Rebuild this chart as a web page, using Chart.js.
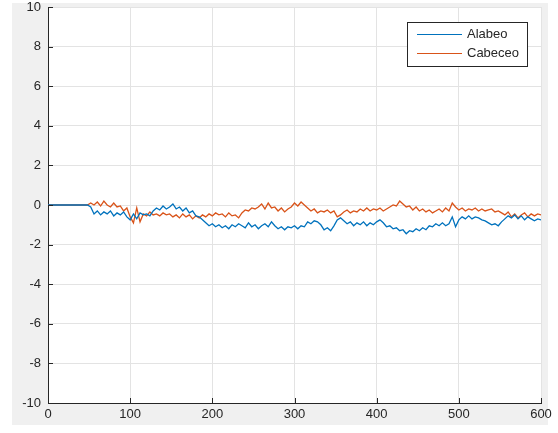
<!DOCTYPE html>
<html>
<head>
<meta charset="utf-8">
<script src="https://cdn.jsdelivr.net/npm/chart.js@4"></script>
<style>
  html, body { margin: 0; padding: 0; background: #ffffff; }
  #wrap { position: relative; width: 558px; height: 433px; }
</style>
</head>
<body>
<div id="wrap"><canvas id="chart" width="558" height="433"></canvas></div>
<script>
// 采样点 (0..600, 每4个单位一个)
const muestras = [
  0, 4, 8, 12, 16, 20, 24, 28, 32, 36,
  40, 44, 48, 52, 56, 60, 64, 68, 72, 76,
  80, 84, 88, 92, 96, 100, 104, 108, 112, 116,
  120, 124, 128, 132, 136, 140, 144, 148, 152, 156,
  160, 164, 168, 172, 176, 180, 184, 188, 192, 196,
  200, 204, 208, 212, 216, 220, 224, 228, 232, 236,
  240, 244, 248, 252, 256, 260, 264, 268, 272, 276,
  280, 284, 288, 292, 296, 300, 304, 308, 312, 316,
  320, 324, 328, 332, 336, 340, 344, 348, 352, 356,
  360, 364, 368, 372, 376, 380, 384, 388, 392, 396,
  400, 404, 408, 412, 416, 420, 424, 428, 432, 436,
  440, 444, 448, 452, 456, 460, 464, 468, 472, 476,
  480, 484, 488, 492, 496, 500, 504, 508, 512, 516,
  520, 524, 528, 532, 536, 540, 544, 548, 552, 556,
  560, 564, 568, 572, 576, 580, 584, 588, 592, 596,
  600
];

const alabeo = [
  0, 0, 0, 0, 0, 0, 0, 0, 0, 0,
  0, 0, 0, -0.1, -0.45, -0.3, -0.5, -0.35, -0.45, -0.3,
  -0.55, -0.4, -0.5, -0.35, -0.6, -0.75, -0.45, -0.7, -0.4, -0.5,
  -0.45, -0.55, -0.3, -0.15, -0.25, -0.05, -0.2, -0.1, 0.05, -0.2,
  -0.1, -0.3, -0.15, -0.4, -0.3, -0.55, -0.6, -0.75, -0.9, -1.05,
  -0.95, -1.1, -1.0, -1.15, -1.05, -1.2, -1.0, -1.1, -0.95, -1.05,
  -1.15, -0.9, -1.1, -1.0, -1.2, -1.05, -0.95, -1.1, -0.85, -1.05,
  -1.2, -1.1, -1.25, -1.1, -1.15, -1.05, -1.2, -1.05, -1.1, -0.85,
  -0.95, -0.8, -0.85, -1.0, -1.25, -1.15, -1.3, -1.05, -0.75, -0.65,
  -0.8, -0.95, -0.85, -1.05, -0.9, -1.0, -0.85, -1.05, -0.9, -1.0,
  -0.85, -0.75, -0.9, -1.1, -1.05, -1.2, -1.15, -1.3, -1.25, -1.45,
  -1.3, -1.35, -1.2, -1.3, -1.15, -1.25, -1.05, -1.1, -0.95, -1.05,
  -0.9, -1.05, -0.95, -0.6, -1.1, -0.75, -0.6, -0.7, -0.55, -0.7,
  -0.6, -0.65, -0.75, -0.8, -0.9, -1.0, -0.95, -1.05, -0.85, -0.7,
  -0.55, -0.65, -0.5, -0.7, -0.55, -0.75, -0.6, -0.7, -0.8, -0.7,
  -0.75
];

const cabeceo = [
  0, 0, 0, 0, 0, 0, 0, 0, 0, 0,
  0, 0, 0, 0.1, 0.0, 0.15, -0.05, 0.2, 0.0, -0.1,
  0.1, -0.1, -0.05, -0.3, -0.15, -0.6, -0.9, -0.15, -0.85, -0.45,
  -0.55, -0.35, -0.5, -0.45, -0.55, -0.4, -0.5, -0.45, -0.6, -0.5,
  -0.65, -0.45, -0.6, -0.5, -0.7, -0.55, -0.65, -0.5, -0.6, -0.45,
  -0.55, -0.4, -0.5, -0.45, -0.6, -0.4, -0.55, -0.5, -0.65, -0.4,
  -0.25, -0.3, -0.15, -0.2, -0.1, 0.05, -0.2, 0.1, -0.15, -0.1,
  -0.3, -0.15, -0.35, -0.2, -0.1, 0.1, -0.05, 0.15, 0.0, -0.15,
  -0.3, -0.2, -0.4, -0.3, -0.35, -0.25, -0.4, -0.3, -0.6, -0.5,
  -0.35, -0.25, -0.4, -0.3, -0.35, -0.2, -0.3, -0.15, -0.3, -0.2,
  -0.25, -0.15, -0.3, -0.2, -0.1, 0.0, -0.05, 0.2, 0.05, -0.1,
  -0.05, -0.25, -0.1, -0.3, -0.2, -0.35, -0.25, -0.4, -0.3, -0.2,
  -0.35, -0.15, -0.3, 0.1, -0.1, -0.25, -0.15, -0.3, -0.2, -0.25,
  -0.15, -0.3, -0.2, -0.3, -0.25, -0.2, -0.35, -0.3, -0.4, -0.5,
  -0.35, -0.6, -0.45, -0.65, -0.5, -0.4, -0.6, -0.45, -0.55, -0.45,
  -0.5
];

const ticksX = [0, 100, 200, 300, 400, 500, 600];
const ticksY = [-10, -8, -6, -4, -2, 0, 2, 4, 6, 8, 10];

const TEXT = '#262626';
const FONT = { family: '"Liberation Sans", Arial, sans-serif', size: 13 };

// 背景: 灰色图窗 + 白色坐标区
const fondoPlugin = {
  id: 'fondo',
  beforeDraw(chart) {
    const { ctx, chartArea: a } = chart;
    ctx.save();
    ctx.fillStyle = '#f0f0f0';
    ctx.fillRect(12, 3, 536, 422);
    ctx.fillStyle = '#ffffff';
    ctx.fillRect(a.left, a.top, a.right - a.left, a.bottom - a.top);
    ctx.restore();
  }
};

// 朝内的刻度线 + 图例
const extrasPlugin = {
  id: 'extras',
  afterDraw(chart) {
    const { ctx, chartArea: a, scales } = chart;
    ctx.save();
    ctx.strokeStyle = TEXT;
    ctx.lineWidth = 1;
    ctx.beginPath();
    ticksX.forEach(v => {
      const px = Math.round(scales.x.getPixelForValue(v)) + 0.5;
      ctx.moveTo(px, a.bottom);
      ctx.lineTo(px, a.bottom - 5);
    });
    ticksY.forEach(v => {
      const py = Math.round(scales.y.getPixelForValue(v)) + 0.5;
      ctx.moveTo(a.left, py);
      ctx.lineTo(a.left + 5, py);
    });
    ctx.stroke();

    // 图例
    ctx.fillStyle = '#ffffff';
    ctx.fillRect(407, 22, 120, 44);
    ctx.strokeStyle = TEXT;
    ctx.strokeRect(407.5, 22.5, 120, 44);
    ctx.font = FONT.size + 'px ' + FONT.family;
    ctx.textBaseline = 'middle';
    chart.data.datasets.forEach((ds, i) => {
      const y = 34 + i * 19 + 0.5;
      ctx.strokeStyle = ds.borderColor;
      ctx.lineWidth = 1;
      ctx.beginPath();
      ctx.moveTo(417, y);
      ctx.lineTo(462, y);
      ctx.stroke();
      ctx.fillStyle = TEXT;
      ctx.fillText(ds.label, 467, y);
    });
    ctx.restore();
  }
};

new Chart(document.getElementById('chart'), {
  type: 'line',
  data: {
    datasets: [
      {
        label: 'Alabeo',
        data: muestras.map((x, i) => ({ x: x, y: alabeo[i] })),
        borderColor: '#0072BD',
        borderWidth: 1.3,
        pointRadius: 0,
        tension: 0
      },
      {
        label: 'Cabeceo',
        data: muestras.map((x, i) => ({ x: x, y: cabeceo[i] })),
        borderColor: '#D95319',
        borderWidth: 1.3,
        pointRadius: 0,
        tension: 0
      }
    ]
  },
  options: {
    responsive: false,
    animation: false,
    layout: { padding: { top: 7, right: 17, left: 0, bottom: 0 } },
    plugins: {
      legend: { display: false },
      tooltip: { enabled: false }
    },
    scales: {
      x: {
        type: 'linear',
        min: 0,
        max: 600,
        afterBuildTicks: s => { s.ticks = ticksX.map(v => ({ value: v })); },
        afterFit: s => { s.height = 30; s.paddingLeft = 0; s.paddingRight = 0; },
        grid: { color: '#e3e3e3', drawTicks: false },
        border: { color: TEXT, width: 1 },
        ticks: { color: TEXT, font: FONT, padding: 4, maxRotation: 0 }
      },
      y: {
        type: 'linear',
        min: -10,
        max: 10,
        afterBuildTicks: s => { s.ticks = ticksY.map(v => ({ value: v })); },
        afterFit: s => { s.width = 48; s.paddingTop = 0; s.paddingBottom = 0; },
        grid: { color: '#e3e3e3', drawTicks: false },
        border: { color: TEXT, width: 1 },
        ticks: { color: TEXT, font: FONT, padding: 7 }
      }
    }
  },
  plugins: [fondoPlugin, extrasPlugin]
});
</script>
</body>
</html>
